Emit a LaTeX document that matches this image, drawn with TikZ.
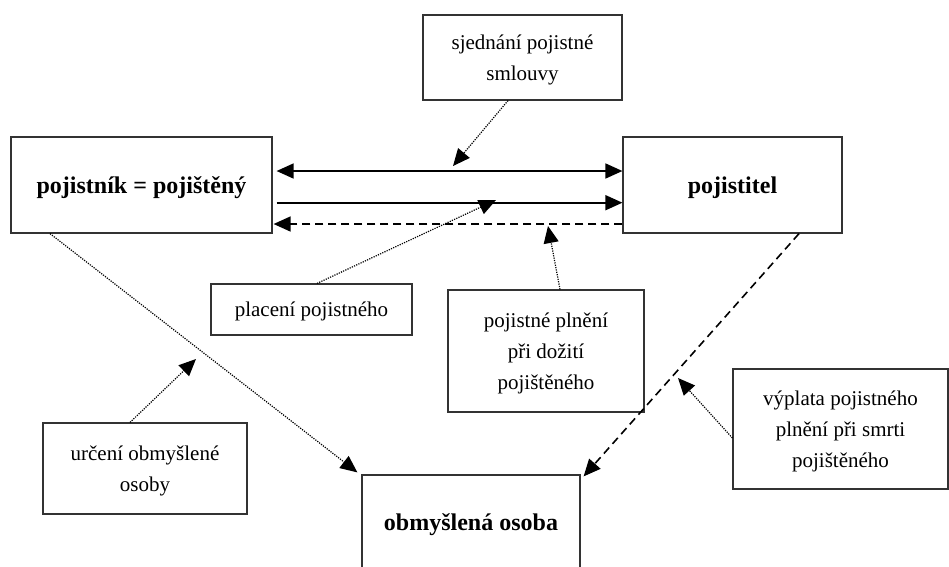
\documentclass[tikz,border=0pt]{standalone}
\usepackage{fontspec}
\setmainfont{Liberation Serif}
\usetikzlibrary{arrows.meta}
\tikzset{
  box/.style={draw=black!80, line width=1.2pt, rectangle, inner sep=0pt, align=center,
    font=\fontsize{21}{31}\selectfont, text depth=0pt},
  mainbox/.style={box, font=\fontsize{24}{28}\selectfont\bfseries},
  head/.tip={Triangle[length=17pt,width=15pt]},
  tip/.style={-head},
  solidline/.style={line width=1.6pt},
  dashline/.style={line width=1.6pt, dash pattern=on 8pt off 5pt},
  dotline/.style={line width=1.2pt, dash pattern=on 1.2pt off 1.2pt},
}
\begin{document}
\begin{tikzpicture}[x=1pt,y=-1pt]
\useasboundingbox (0,0) rectangle (949,566);
\begin{scope}
\clip (0,0) rectangle (949,566);
% parties
\node[mainbox, minimum width=261pt, minimum height=96pt] (pojistnik) at (141.5,185) {pojistník = pojištěný};
\node[mainbox, minimum width=219pt, minimum height=96pt] (pojistitel) at (732.5,185) {pojistitel};
\node[mainbox, minimum width=218pt, minimum height=94pt] (obmysl) at (471,522) {obmyšlená osoba};
% annotation boxes
\node[box, minimum width=199pt, minimum height=85pt] (sjednani) at (522.5,57.5) {sjednání pojistné\\smlouvy};
\node[box, minimum width=201pt, minimum height=51pt] (placeni) at (311.5,309.5) {placení pojistného};
\node[box, minimum width=196pt, minimum height=122pt] (plneni) at (546,351) {pojistné plnění\\při dožití\\pojištěného};
\node[box, minimum width=204pt, minimum height=91pt] (urceni) at (145,468.5) {určení obmyšlené\\osoby};
\node[box, minimum width=215pt, minimum height=120pt] (vyplata) at (840.5,429) {výplata pojistného\\plnění při smrti\\pojištěného};
\end{scope}
% arrow targets on the connectors
\coordinate (t1) at (453,166);
\coordinate (t2) at (496,200);
\coordinate (t3) at (548,226);
\coordinate (t4) at (196,359);
\coordinate (t5) at (678,378);
% flows between the parties
\draw[solidline, head-head]
  ([xshift=4pt,yshift=14pt]pojistnik.east) -- ([yshift=14pt]pojistitel.west);
\draw[solidline, tip] ([xshift=4pt,yshift=-17.7pt]pojistnik.east) -- ([yshift=-17.7pt]pojistitel.west);
\draw[dashline, tip] ([yshift=-39pt]pojistitel.west) -- ([xshift=1pt,yshift=-39pt]pojistnik.east);
\draw[dashline, tip] ([xshift=66.5pt]pojistitel.south) -- ([xshift=3pt,yshift=-2pt]obmysl.north east);
\draw[dotline, tip] ([xshift=-91.5pt]pojistnik.south) -- ([xshift=-4pt,yshift=2pt]obmysl.north west);
% annotation pointers
\draw[dotline, tip] ([xshift=-14.5pt]sjednani.south) -- (t1);
\draw[dotline, tip] ([xshift=5.5pt]placeni.north) -- (t2);
\draw[dotline, tip] ([xshift=14pt]plneni.north) -- (t3);
\draw[dotline, tip] ([xshift=-15pt]urceni.north) -- (t4);
\draw[dotline, tip] ([yshift=-9pt]vyplata.west) -- (t5);
\end{tikzpicture}
\end{document}
